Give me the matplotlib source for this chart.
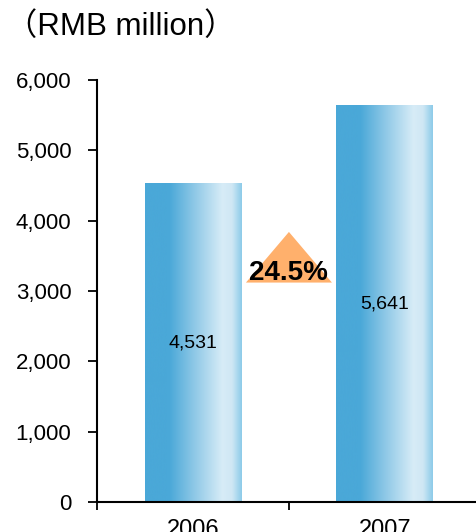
import numpy as np
import matplotlib
matplotlib.use('Agg')
import matplotlib.pyplot as plt
from matplotlib.colors import LinearSegmentedColormap
from matplotlib.patches import Polygon

plt.rcParams['font.family'] = ['Liberation Sans', 'Noto Sans CJK SC', 'DejaVu Sans']

years = ['2006', '2007']
values = [4531, 5641]
growth = '24.5%'

fig = plt.figure(figsize=(4.77, 5.32), dpi=100)
ax = fig.add_axes([0.2034, 0.0564, 0.7966, 0.7932])

# gradient for bars
cmap = LinearSegmentedColormap.from_list('bar', [
    (0.0, '#4aa8d8'), (0.25, '#4aa8d8'), (0.5, '#8cc7e6'),
    (0.8, '#d7ecf7'), (0.9, '#cfe7f4'), (1.0, '#8ccbe9')])
grad = np.linspace(0, 1, 256).reshape(1, -1)
width = 0.505
pos = [0.5, 1.5]
for x, v in zip(pos, values):
    ax.imshow(grad, cmap=cmap, aspect='auto', interpolation='bicubic',
              extent=(x - width / 2, x + width / 2, 0, v), zorder=2)
    ax.text(x, v / 2, f'{v:,}', ha='center', va='center', fontsize=14, zorder=3)

# growth triangle
tri = Polygon([(0.776, 3120), (1.224, 3120), (1.0, 3840)], closed=True,
              facecolor='#ffb06c', edgecolor='none', zorder=2)
ax.add_patch(tri)
ax.text(1.0, 3260, growth, ha='center', va='center', fontsize=20,
        fontweight='bold', zorder=3)

ax.set_xlim(0, 1.98)
ax.set_ylim(0, 6000)
ax.set_yticks(range(0, 6001, 1000))
ax.set_yticklabels([f'{t:,}' for t in range(0, 6001, 1000)], fontsize=16)
ax.set_xticks([0, 1])
ax.set_xticklabels([])
ax.set_xticks(pos, minor=True)
ax.set_xticklabels(years, minor=True, fontsize=17)
ax.tick_params(axis='x', which='minor', length=0, pad=12)
ax.tick_params(axis='x', which='major', length=6, width=1.3, direction='out')
ax.tick_params(axis='y', length=6.5, width=1.3, direction='out', pad=12)

for s in ['top', 'right']:
    ax.spines[s].set_visible(False)
for s in ['left', 'bottom']:
    ax.spines[s].set_linewidth(1.5)

fig.text(0.012, 0.950, '（RMB million）', fontsize=22.5, ha='left', va='center')

fig.savefig('out.png', dpi=100)
